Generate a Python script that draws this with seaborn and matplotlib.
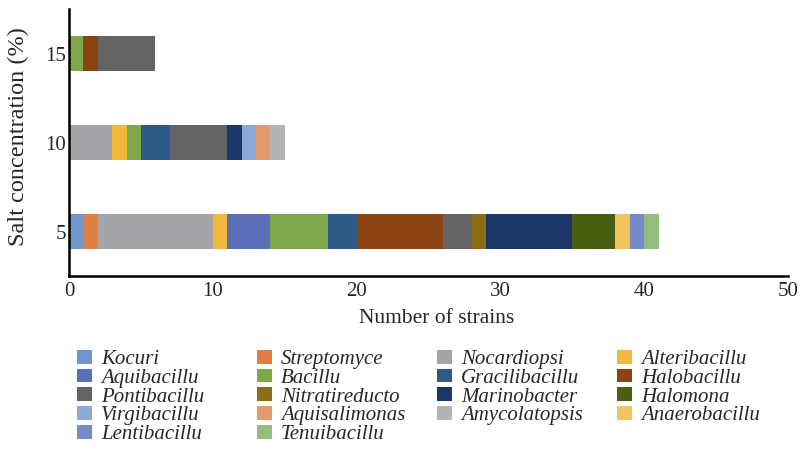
import matplotlib
matplotlib.use("Agg")
import matplotlib.pyplot as plt
import seaborn as sns
import pandas as pd
import numpy as np
from matplotlib.patches import Patch

sns.set_theme(style="white")
plt.rcParams['font.family'] = ['Liberation Serif', 'DejaVu Serif']

concentrations = ["15", "10", "5"]
genera = ["Kocuri", "Streptomyce", "Nocardiopsi", "Alteribacillu", "Aquibacillu",
          "Bacillu", "Gracilibacillu", "Halobacillu", "Pontibacillu", "Nitratireducto",
          "Marinobacter", "Halomona", "Virgibacillu", "Aquisalimonas", "Amycolatopsis",
          "Anaerobacillu", "Lentibacillu", "Tenuibacillu"]
# counts per genus for salt 15, 10, 5 (%)
counts_15 = [0, 0, 0, 0, 0, 1, 0, 1, 4, 0, 0, 0, 0, 0, 0, 0, 0, 0]
counts_10 = [0, 0, 3, 1, 0, 1, 2, 0, 4, 0, 1, 0, 1, 1, 1, 0, 0, 0]
counts_5 = [1, 1, 8, 1, 3, 4, 2, 6, 2, 1, 6, 3, 0, 0, 0, 1, 1, 1]
colors = ["#7096CE", "#E07F42", "#A5A4A8", "#F0B93C", "#5A6FB8", "#7EA84A",
          "#2E5A88", "#8B4411", "#646366", "#8D6E14", "#1B3668", "#4A5F12",
          "#8BAAD8", "#E5996C", "#B4B3B6", "#F2C65E", "#7888C8", "#94BE7E"]
xticks = [0, 10, 20, 30, 40, 50]

counts = np.array([counts_15, counts_10, counts_5])  # rows: concentrations
cum = counts.cumsum(axis=1)

fig = plt.figure(figsize=(8.01, 4.61), dpi=100)
fig.patch.set_facecolor("white")
ax = fig.add_axes([69/801, 1-276/461, (788-69)/801, (276-9)/461])

# stacked bars: draw cumulative totals from last to first
for i in range(len(genera) - 1, -1, -1):
    df = pd.DataFrame({"conc": concentrations, "total": cum[:, i]})
    sns.barplot(data=df, y="conc", x="total", order=concentrations, orient="h",
                color=colors[i], width=0.4, ax=ax, linewidth=0, saturation=1)

ax.set_xlim(0, 50)
ax.set_ylim(2.5, -0.5)
ax.set_xticks(xticks)
ax.tick_params(axis="both", length=0, labelsize=15)
ax.tick_params(axis="x", pad=4.5)
ax.tick_params(axis="y", pad=2)
for s in ["top", "right"]:
    ax.spines[s].set_visible(False)
for s in ["left", "bottom"]:
    ax.spines[s].set_visible(True)
    ax.spines[s].set_color("black")
    ax.spines[s].set_linewidth(1.8)
ax.set_xlabel("Number of strains", fontsize=15.5)
ax.set_ylabel("Salt concentration (%)", fontsize=17.5)
ax.xaxis.set_label_coords((436.5-69)/719, (276-309)/267)
ax.yaxis.set_label_coords((29-69)/719, (276-137)/267)
ax.set_facecolor("white")

# legend: 4 columns, row-major order
ncol = 4
col_x = [77, 257, 437, 617]
for c in range(ncol):
    idx = list(range(c, len(genera), ncol))
    handles = [Patch(facecolor=colors[k], edgecolor="none") for k in idx]
    labels = [genera[k] for k in idx]
    fig.legend(handles, labels, loc="upper left",
               bbox_to_anchor=(col_x[c]/801, 1-350/461),
               frameon=False, prop={"family": "Liberation Serif", "style": "italic", "size": 15},
               handlelength=0.72, handleheight=0.63, handletextpad=0.43,
               labelspacing=-0.02, borderpad=0, borderaxespad=0)

fig.savefig("out.png", dpi=100, facecolor="white")
